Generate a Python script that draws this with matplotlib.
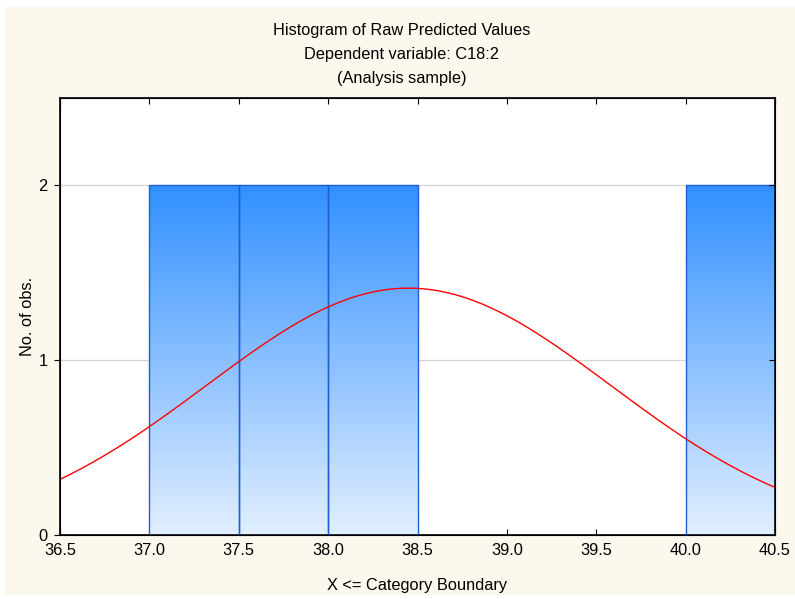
"""Histogram of raw predicted values with a fitted normal curve."""

import matplotlib

matplotlib.use("Agg")
import matplotlib.pyplot as plt
import numpy as np
from matplotlib.patches import Rectangle

plt.rcParams["font.family"] = ["Liberation Sans", "DejaVu Sans"]

# histogram bins (upper boundaries) and counts
bin_left = [37.0, 37.5, 38.0, 40.0]
bin_width = 0.5
counts = [2, 2, 2, 2]

# fitted normal curve parameters
n_obs = 8
fit_mean = 38.45
fit_sd = 1.13

x_ticks = [36.5, 37.0, 37.5, 38.0, 38.5, 39.0, 39.5, 40.0, 40.5]
y_ticks = [0, 1, 2]
titles = [
    "Histogram of Raw Predicted Values",
    "Dependent variable: C18:2",
    "(Analysis sample)",
]

FS = 11.8
W, H = 795, 599
fig = plt.figure(figsize=(W / 100, H / 100), dpi=100)
fig.patch.set_facecolor("white")
fig.patches.append(
    Rectangle((5 / W, 4 / H), (W - 5) / W, (H - 11) / H,
              transform=fig.transFigure, facecolor="#fdf8ee",
              edgecolor="none", zorder=-10)
)

ax = fig.add_axes([60 / W, 1 - 535 / H, 715 / W, 437 / H])
ax.set_facecolor("white")

for y in [1, 2]:
    ax.axhline(y, color="#d4d4d4", linewidth=0.9, zorder=1)

gradient = np.linspace(0, 1, 256).reshape(-1, 1)
cmap = matplotlib.colors.LinearSegmentedColormap.from_list(
    "bar", ["#e2efff", "#3190ff"])
for left, count in zip(bin_left, counts):
    ax.imshow(gradient, extent=(left, left + bin_width, 0, count),
              origin="lower", cmap=cmap, aspect="auto", zorder=2,
              interpolation="bilinear")
    ax.add_patch(Rectangle((left, 0), bin_width, count, facecolor="none",
                           edgecolor="#1f5fd6", linewidth=1.0, zorder=3))
ax.set_xlim(36.5, 40.5)
ax.set_ylim(0, 2.5)

xs = np.linspace(36.5, 40.5, 400)
curve = n_obs * bin_width / (fit_sd * np.sqrt(2 * np.pi)) * np.exp(
    -0.5 * ((xs - fit_mean) / fit_sd) ** 2)
ax.plot(xs, curve, color="#ff0000", linewidth=1.0, zorder=4)

ax.set_xticks(x_ticks)
ax.set_xticklabels([f"{t:.1f}" for t in x_ticks])
ax.set_yticks(y_ticks)
ax.tick_params(axis="x", direction="in", top=True, length=4, labelsize=FS,
               pad=6, color="black")
ax.tick_params(axis="y", direction="out", length=4, labelsize=FS, pad=5)
for spine in ax.spines.values():
    spine.set_color("black")
    spine.set_linewidth(1.2)

# inward ticks on the right edge
ax_r = ax.twinx()
ax_r.set_ylim(0, 2.5)
ax_r.set_yticks(y_ticks)
ax_r.tick_params(axis="y", direction="in", length=4, labelright=False)

ax.set_xlabel("X <= Category Boundary", fontsize=FS, labelpad=14)
ax.set_ylabel("No. of obs.", fontsize=FS, labelpad=2)

for i, line in enumerate(titles):
    fig.text(402 / W, 1 - (31 + 23.5 * i) / H, line, ha="center",
             va="center", fontsize=FS)

fig.savefig("out.png", dpi=100, facecolor=fig.get_facecolor())
